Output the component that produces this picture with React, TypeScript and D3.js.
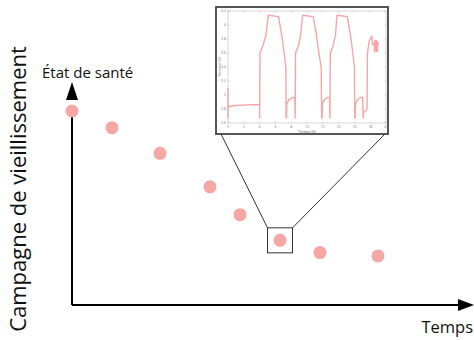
import React from "react";
import * as d3 from "d3";

// main chart: health state at each ageing campaign
const campaignTime = [0, 10, 22, 34.5, 42, 52, 62, 76.5];
const healthState = [87, 79.5, 68, 53, 40.5, 29, 23.5, 22];
const zoomedIndex = 5;

// inset: voltage during one campaign
const cycleTime = [
  0, 0, 0, 0.3, 1, 2, 3, 4, 4, 4.05, 4.4, 4.8, 5.1, 6.4, 6.8, 7.1, 7.32, 7.35, 7.4, 7.45, 7.7, 8.1, 8.45,
  8.5, 8.55, 8.9, 9.2, 9.45, 10.8, 11.2, 11.5, 11.8, 11.85, 11.9, 11.95, 12.2, 12.5, 12.85,
  12.9, 12.95, 13.3, 13.6, 13.8, 15.1, 15.5, 15.8, 16.0, 16.05, 16.1, 16.15, 16.4, 16.7, 17.05,
  17.1, 17.15, 17.5, 17.6, 17.65, 17.9, 18.2, 18.3, 18.5, 18.55, 18.6, 18.7, 18.75, 18.8, 18.9, 19.0,
];
const cycleVolt = [
  3.1, 2.67, 2.82, 2.84, 2.85, 2.855, 2.86, 2.865, 2.67, 3.6, 3.7, 3.85, 4.14, 4.12, 3.85, 3.6, 3.4, 2.67, 2.67, 2.88, 2.93, 2.96, 2.97,
  2.67, 3.6, 3.7, 3.86, 4.14, 4.12, 3.85, 3.6, 3.4, 2.67, 2.67, 2.88, 2.93, 2.96, 2.97,
  2.67, 3.6, 3.7, 3.86, 4.14, 4.12, 3.85, 3.6, 3.4, 2.67, 2.67, 2.88, 2.93, 2.96, 2.97,
  2.67, 2.75, 2.78, 2.8, 3.6, 3.78, 3.84, 3.72, 3.74, 3.62, 3.78, 3.78, 3.62, 3.78, 3.62, 3.76,
];
const voltTicks = [2.6, 2.8, 3, 3.2, 3.4, 3.6, 3.8, 4, 4.2];
const timeTicks = [0, 2, 4, 6, 8, 10, 12, 14, 16, 18, 20];

const pink = "#f7a6a6";
const font = "'Open Sans', 'Noto Sans', sans-serif";

export default function App() {
  const width = 474, height = 340;
  const x = d3.scaleLinear().domain([0, 100]).range([72, 472]);
  const y = d3.scaleLinear().domain([0, 100]).range([305, 82]);

  // inset axes
  const ix = d3.scaleLinear().domain([0, 20]).range([228, 386]);
  const iy = d3.scaleLinear().domain([2.6, 4.2]).range([123, 11]);
  const line = d3.line<number>().x((_, i) => ix(cycleTime[i])).y(d => iy(d));

  const zx = x(campaignTime[zoomedIndex]);
  const zy = y(healthState[zoomedIndex]);
  const half = 12.5;
  const frame = { x: 216, y: 7, w: 172, h: 127 };

  return (
    <svg width={width} height={height} style={{ position: "absolute", left: 0, top: 0 }} fontFamily={font}>
      <rect width={width} height={height} fill="white" />

      {/* axes with arrows */}
      <line x1={x(0)} x2={x(0)} y1={y(0)} y2={y(0) - 200} stroke="black" strokeWidth={2} />
      <polygon points={`${x(0)},82 ${x(0) - 6},100 ${x(0) + 6},100`} fill="black" />
      <line x1={x(0)} x2={458} y1={y(0)} y2={y(0)} stroke="black" strokeWidth={2} />
      <polygon points={`474,${y(0)} 458,${y(0) - 6} 458,${y(0) + 6}`} fill="black" />

      <text x={42} y={78} fontSize={15} fill="#111">État de santé</text>
      <text x={473} y={333} fontSize={16.5} textAnchor="end" fill="#111">Temps</text>
      <text transform="translate(26,189) rotate(-90)" fontSize={22} textAnchor="middle" fill="#111">
        Campagne de vieillissement
      </text>

      {campaignTime.map((t, i) => (
        <circle key={i} cx={x(t)} cy={y(healthState[i])} r={6.5} fill={pink} />
      ))}

      {/* zoom box and connectors */}
      <rect x={zx - half} y={zy - half} width={half * 2} height={half * 2} fill="none" stroke="#333" strokeWidth={1} />
      <line x1={zx - half} y1={zy - half} x2={221} y2={frame.y + frame.h} stroke="#333" strokeWidth={1} />
      <line x1={zx + half} y1={zy - half} x2={385} y2={frame.y + frame.h} stroke="#333" strokeWidth={1} />

      {/* inset */}
      <rect x={frame.x} y={frame.y} width={frame.w} height={frame.h} fill="white" stroke="#444" strokeWidth={1.8} />
      <rect x={ix(0)} y={iy(4.2)} width={ix(20) - ix(0)} height={iy(2.6) - iy(4.2)} fill="white" stroke="#bbb" strokeWidth={0.6} />
      {voltTicks.map(v => (
        <g key={v}>
          <line x1={ix(0)} x2={ix(0) + 1.5} y1={iy(v)} y2={iy(v)} stroke="#aaa" strokeWidth={0.5} />
          <line x1={ix(20)} x2={ix(20) - 1.5} y1={iy(v)} y2={iy(v)} stroke="#aaa" strokeWidth={0.5} />
          <text x={ix(0) - 2} y={iy(v) + 1.2} fontSize={3.5} textAnchor="end" fill="#777">{v}</text>
        </g>
      ))}
      {timeTicks.map(t => (
        <g key={t}>
          <line x1={ix(t)} x2={ix(t)} y1={iy(2.6)} y2={iy(2.6) - 1.5} stroke="#aaa" strokeWidth={0.5} />
          <line x1={ix(t)} x2={ix(t)} y1={iy(4.2)} y2={iy(4.2) + 1.5} stroke="#aaa" strokeWidth={0.5} />
          <text x={ix(t)} y={iy(2.6) + 5} fontSize={3.5} textAnchor="middle" fill="#777">{t}</text>
        </g>
      ))}
      <text x={(ix(0) + ix(20)) / 2} y={iy(2.6) + 9.5} fontSize={3.8} textAnchor="middle" fill="#555">Temps (h)</text>
      <text transform={`translate(220.5,${(iy(2.6) + iy(4.2)) / 2}) rotate(-90)`} fontSize={3.8} textAnchor="middle" fill="#555">
        Tension (V)
      </text>
      <path d={line(cycleVolt) ?? ""} fill="none" stroke={pink} strokeWidth={1.4} strokeLinejoin="round" />
    </svg>
  );
}
